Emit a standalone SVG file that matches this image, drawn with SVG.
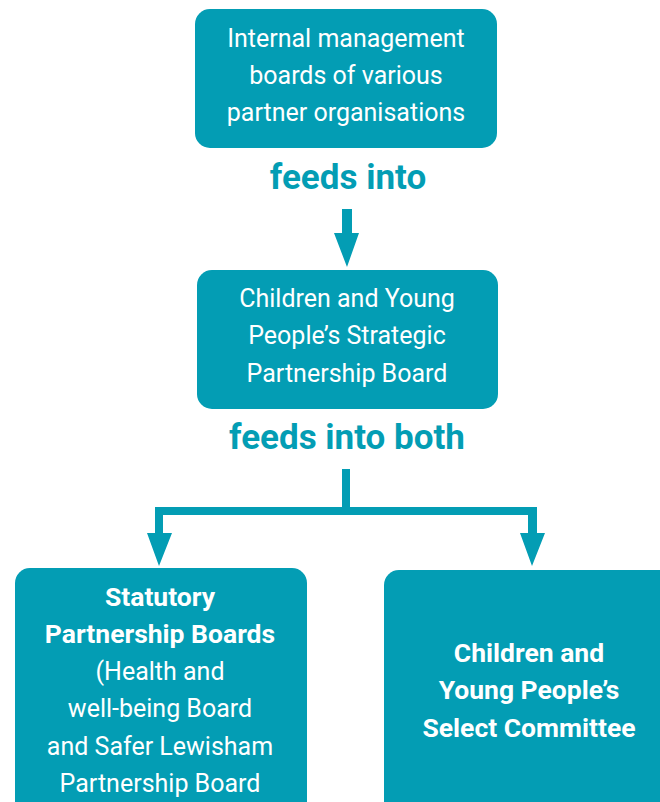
<svg xmlns="http://www.w3.org/2000/svg" width="660" height="802" viewBox="0 0 660 802">
<style>
.box{fill:#039db4}
.t{font-family:Roboto,"Liberation Sans",sans-serif;font-size:25px;fill:#ffffff;text-anchor:middle}
.b{font-weight:bold;font-size:26.5px}
.lbl{font-family:Roboto,"Liberation Sans",sans-serif;font-size:35px;font-weight:bold;fill:#039db4;text-anchor:middle}
.conn{fill:#039db4}
</style>
<rect width="660" height="802" fill="#ffffff"/>
<g id="internal-boards">
<rect class="box" x="195" y="9" width="302" height="139" rx="15"/>
<text class="t" x="346" y="47">Internal management</text>
<text class="t" x="346" y="84">boards of various</text>
<text class="t" x="346" y="121">partner organisations</text>
</g>
<g id="cyp-strategic-board">
<rect class="box" x="197" y="270" width="301" height="139" rx="15"/>
<text class="t" x="347" y="307">Children and Young</text>
<text class="t" x="347" y="344">People’s Strategic</text>
<text class="t" x="347" y="382">Partnership Board</text>
</g>
<g id="statutory-boards">
<rect class="box" x="15" y="568" width="292" height="260" rx="15"/>
<text class="t b" x="160" y="606">Statutory</text>
<text class="t b" x="160" y="643">Partnership Boards</text>
<text class="t" x="160" y="680">(Health and</text>
<text class="t" x="160" y="717">well-being Board</text>
<text class="t" x="160" y="755">and Safer Lewisham</text>
<text class="t" x="160" y="792">Partnership Board</text>
</g>
<g id="select-committee">
<rect class="box" x="384" y="570" width="300" height="260" rx="15"/>
<text class="t b" x="529" y="662">Children and</text>
<text class="t b" x="529" y="699">Young People’s</text>
<text class="t b" x="529" y="737">Select Committee</text>
</g>
<g id="connectors">
<text class="lbl" x="348" y="189">feeds into</text>
<polygon class="conn" points="342,209 352,209 352,233 359,233 347,267 334,233 342,233"/>
<text class="lbl" x="347" y="449">feeds into both</text>
<polygon class="conn" points="342,469 350,469 350,507 537,507 537,533 545,533 532,566 520,533 528,533 528,515 163,515 163,533 172,533 159,566 147,533 155,533 155,507 342,507"/>
</g>
</svg>
